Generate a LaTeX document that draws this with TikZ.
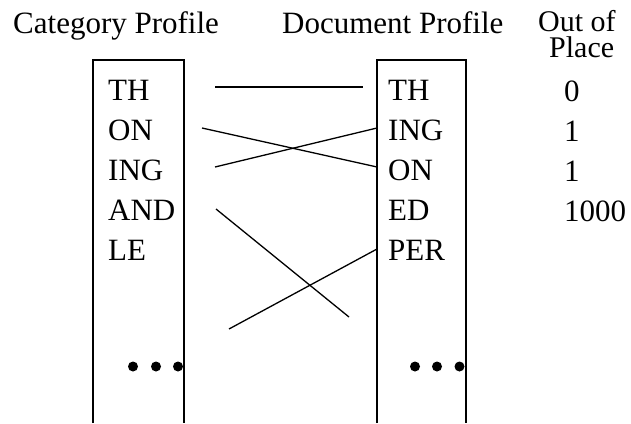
\documentclass[tikz,border=0pt]{standalone}
\usepackage{fontspec}
\setmainfont{Liberation Serif}
\begin{document}
\begin{tikzpicture}[x=1pt,y=-1pt,
  lbl/.style={anchor=base west,inner sep=0pt,font=\fontsize{31}{31}\selectfont},
  hd/.style={anchor=base west,inner sep=0pt,font=\fontsize{30}{30}\selectfont},
  col/.style={line width=1.5pt},
  link/.style={line width=1.3pt},
  dot/.style={fill=black,draw=none}]
\useasboundingbox (0,0) rectangle (631,423);

% column headings
\node[lbl] (hcat) at (13,33) {Category Profile};
\node[lbl] (hdoc) at (282,33) {Document Profile};
\node[hd,text depth=0pt] (hout) at (538,31) {Out of};
\node[hd,text height=20pt] (hplace) at (549,57) {Place};

% the two open-ended profile columns
\draw[col] (93,423) -- (93,60) -- (184,60) -- (184,423);
\draw[col] (377,423) -- (377,60) -- (466,60) -- (466,423);

% category profile entries
\node[lbl] (cTH)  at (108,100) {TH};
\node[lbl] (cON)  at (108,140) {ON};
\node[lbl] (cING) at (108,180) {ING};
\node[lbl] (cAND) at (108,220) {AND};
\node[lbl] (cLE)  at (108,260) {LE};

% document profile entries
\node[lbl] (dTH)  at (388,100) {TH};
\node[lbl] (dING) at (388,140) {ING};
\node[lbl] (dON)  at (388,180) {ON};
\node[lbl] (dED)  at (388,220) {ED};
\node[lbl] (dPER) at (388,260) {PER};

% out-of-place values
\node[lbl] (v1) at (564,101) {0};
\node[lbl] (v2) at (564,141) {1};
\node[lbl] (v3) at (564,181) {1};
\node[lbl] (v4) at (564,221) {1000};

% continuation dots
\foreach \x in {133,156,178} \fill[dot] (\x,366.5) circle (5);
\foreach \x in {415,437,459.5} \fill[dot] (\x,366.5) circle (5);

% connector end points
\coordinate (aTH)  at (215,87);
\coordinate (bTH)  at (363,87);
\coordinate (aON)  at (202,128);
\coordinate (bON)  at (377,167);
\coordinate (aING) at (215,167);
\coordinate (bING) at (377,128);
\coordinate (aAND) at (216,209);
\coordinate (bAND) at (349,317);
\coordinate (aPER) at (377,249);
\coordinate (bPER) at (229,329);

% rank connectors
\draw[link] (aTH) -- (bTH);
\draw[link] (aON) -- (bON);
\draw[link] (aING) -- (bING);
\draw[link] (aAND) -- (bAND);
\draw[link] (aPER) -- (bPER);
\end{tikzpicture}
\end{document}
